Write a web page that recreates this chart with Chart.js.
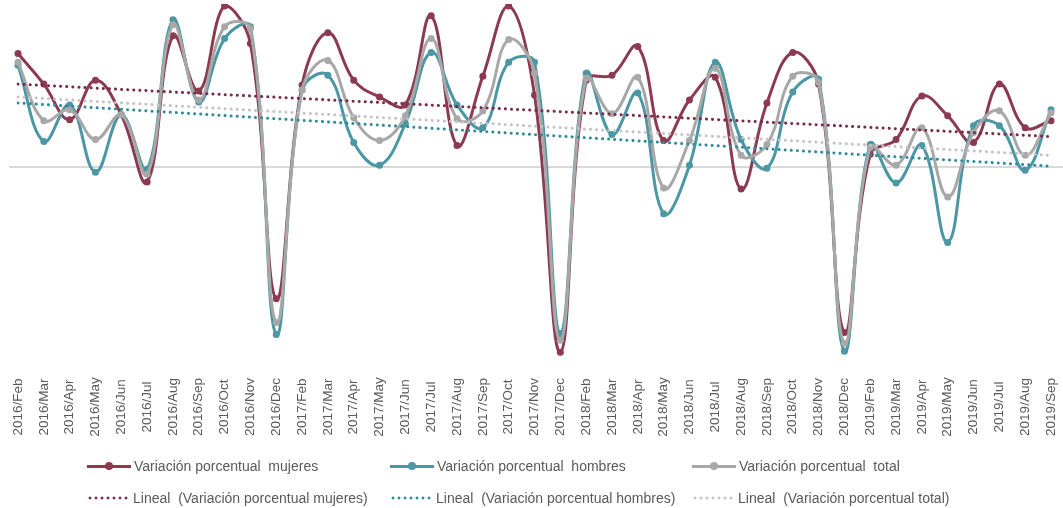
<!DOCTYPE html>
<html>
<head>
<meta charset="utf-8">
<script src="https://cdn.jsdelivr.net/npm/chart.js@4.4.0/dist/chart.umd.min.js"></script>
<style>
  html, body { margin: 0; padding: 0; background: #fff; }
  #wrap { position: relative; width: 1063px; height: 508px; overflow: hidden; }
  #app { position: absolute; left: 0; top: 0; }
  .leg { position: absolute; display: flex; align-items: center; white-space: pre;
         font: 14px "Liberation Sans", Arial, sans-serif; color: #595959; }
  .solid { position: relative; width: 44px; height: 3px; margin-right: 3px; }
  .solid i { position: absolute; left: 18px; top: -2.5px; width: 8px; height: 8px; border-radius: 50%; }
  .dots { width: 43px; height: 6px; margin-right: 3px; background-size: 6px 6px; }
</style>
</head>
<body>
<div id="wrap">
  <canvas id="app" width="1063" height="508"></canvas>
</div>
<script>
const months = [
  '2016/Feb','2016/Mar','2016/Apr','2016/May','2016/Jun','2016/Jul','2016/Aug','2016/Sep','2016/Oct','2016/Nov','2016/Dec',
  '2017/Feb','2017/Mar','2017/Apr','2017/May','2017/Jun','2017/Jul','2017/Aug','2017/Sep','2017/Oct','2017/Nov','2017/Dec',
  '2018/Feb','2018/Mar','2018/Apr','2018/May','2018/Jun','2018/Jul','2018/Aug','2018/Sep','2018/Oct','2018/Nov','2018/Dec',
  '2019/Feb','2019/Mar','2019/Apr','2019/May','2019/Jun','2019/Jul','2019/Aug','2019/Sep'
]

const mujeres = [
  11.5, 8.4, 4.8, 8.8, 5.3, -1.5, 13.3, 7.7, 16.3, 12.5, -13.3,
  8.3, 13.6, 8.8, 7.1, 6.3, 15.3, 2.2, 9.2, 16.3, 7.3, -18.7,
  8.8, 9.3, 12.2, 2.7, 6.8, 9.1, -2.2, 6.5, 11.6, 8.4, -16.7,
  1.3, 2.8, 7.2, 5.2, 2.5, 8.4, 4.0, 4.7
]
const hombres = [
  10.3, 2.6, 6.3, -0.5, 5.3, -0.2, 14.9, 6.6, 13.0, 14.2, -16.9,
  7.8, 9.3, 2.5, 0.2, 4.4, 11.6, 6.3, 4.0, 10.6, 10.6, -16.8,
  9.5, 3.3, 7.5, -4.7, 0.2, 10.6, 2.8, -0.1, 7.6, 8.9, -18.6,
  2.3, -1.6, 2.2, -7.6, 4.2, 4.2, -0.3, 5.8
]
const total = [
  10.6, 4.7, 5.8, 2.8, 5.3, -0.7, 14.4, 6.8, 14.2, 14.0, -15.7,
  7.8, 10.8, 5.0, 2.7, 5.2, 13.0, 4.9, 5.7, 12.9, 9.5, -17.5,
  9.0, 5.4, 9.1, -2.1, 2.7, 10.0, 1.2, 2.3, 9.2, 8.6, -17.8,
  2.0, 0.2, 4.0, -3.0, 3.5, 5.7, 1.2, 5.5
]

// trend line ends (first and last month)
const trendMujeres = [8.4, 3.1]
const trendHombres = [6.5, 0.1]
const trendTotal = [7.1, 1.2]

const seriesNames = ['Variación porcentual  mujeres', 'Variación porcentual  hombres', 'Variación porcentual  total']
const trendNames = ['Lineal  (Variación porcentual mujeres)', 'Lineal  (Variación porcentual hombres)', 'Lineal  (Variación porcentual total)']

const colors = ['#8c3a52', '#4b97a4', '#a8a8a8']
const trendColors = ['#7a2a44', '#2f8b9a', '#c4c4c4']

function lineSet(label, data, color, order){
  return {
    label, data, order,
    borderColor: color, backgroundColor: color,
    borderWidth: 3, tension: 0.4,
    pointRadius: 3.5, pointBorderWidth: 0, pointBackgroundColor: color
  }
}

function trendSet(label, ends, color){
  return {
    label, order: 0,
    data: [{x: months[0], y: ends[0]}, {x: months[months.length - 1], y: ends[1]}],
    borderColor: color, borderWidth: 3,
    borderDash: [0.1, 6], borderCapStyle: 'round',
    pointRadius: 0, tension: 0
  }
}

const extras = {
  id: 'extras',
  beforeDatasetsDraw(chart){
    const {ctx, scales: {y}} = chart
    const y0 = Math.round(y.getPixelForValue(0))
    ctx.save()
    ctx.strokeStyle = '#d9d9d9'
    ctx.lineWidth = 2
    ctx.beginPath()
    ctx.moveTo(9, y0)
    ctx.lineTo(chart.width, y0)
    ctx.stroke()
    ctx.restore()
  },
  afterDraw(chart){
    const {ctx, scales: {x}} = chart
    ctx.save()
    ctx.font = '13.5px "Liberation Sans", Arial, sans-serif'
    ctx.fillStyle = '#595959'
    ctx.textAlign = 'center'
    ctx.textBaseline = 'middle'
    months.forEach((lab, i) => {
      ctx.save()
      ctx.translate(x.getPixelForValue(i), 407)
      ctx.rotate(-Math.PI / 2)
      ctx.fillText(lab, 0, 0)
      ctx.restore()
    })
    ctx.restore()
  }
}

new Chart(document.getElementById('app'), {
  type: 'line',
  data: {
    labels: months,
    datasets: [
      lineSet(seriesNames[0], mujeres, colors[0], 3),
      lineSet(seriesNames[1], hombres, colors[1], 2),
      lineSet(seriesNames[2], total, colors[2], 1),
      trendSet(trendNames[0], trendMujeres, trendColors[0]),
      trendSet(trendNames[1], trendHombres, trendColors[1]),
      trendSet(trendNames[2], trendTotal, trendColors[2])
    ]
  },
  options: {
    responsive: false,
    animation: false,
    layout: { padding: { left: 18, right: 12, top: 0, bottom: 138 } },
    plugins: { legend: { display: false }, tooltip: { enabled: false } },
    scales: {
      x: { display: false, offset: false },
      y: { display: false, min: -20.5, max: 16.5 }
    }
  },
  plugins: [extras]
})

// legend, two rows of three
const wrap = document.getElementById('wrap')
const cols = [87, 390, 692]
seriesNames.forEach((name, i) => {
  const d = document.createElement('div')
  d.className = 'leg'
  d.style.left = cols[i] + 'px'
  d.style.top = '458px'
  d.innerHTML = '<span class="solid" style="background:' + colors[i] + '"><i style="background:' + colors[i] + '"></i></span>' + name
  wrap.appendChild(d)
})
trendNames.forEach((name, i) => {
  const d = document.createElement('div')
  d.className = 'leg'
  d.style.left = cols[i] + 'px'
  d.style.top = '490px'
  d.innerHTML = '<span class="dots" style="background-image:radial-gradient(circle, ' + trendColors[i] + ' 1.3px, transparent 1.7px)"></span>' + name
  wrap.appendChild(d)
})
</script>
</body>
</html>
